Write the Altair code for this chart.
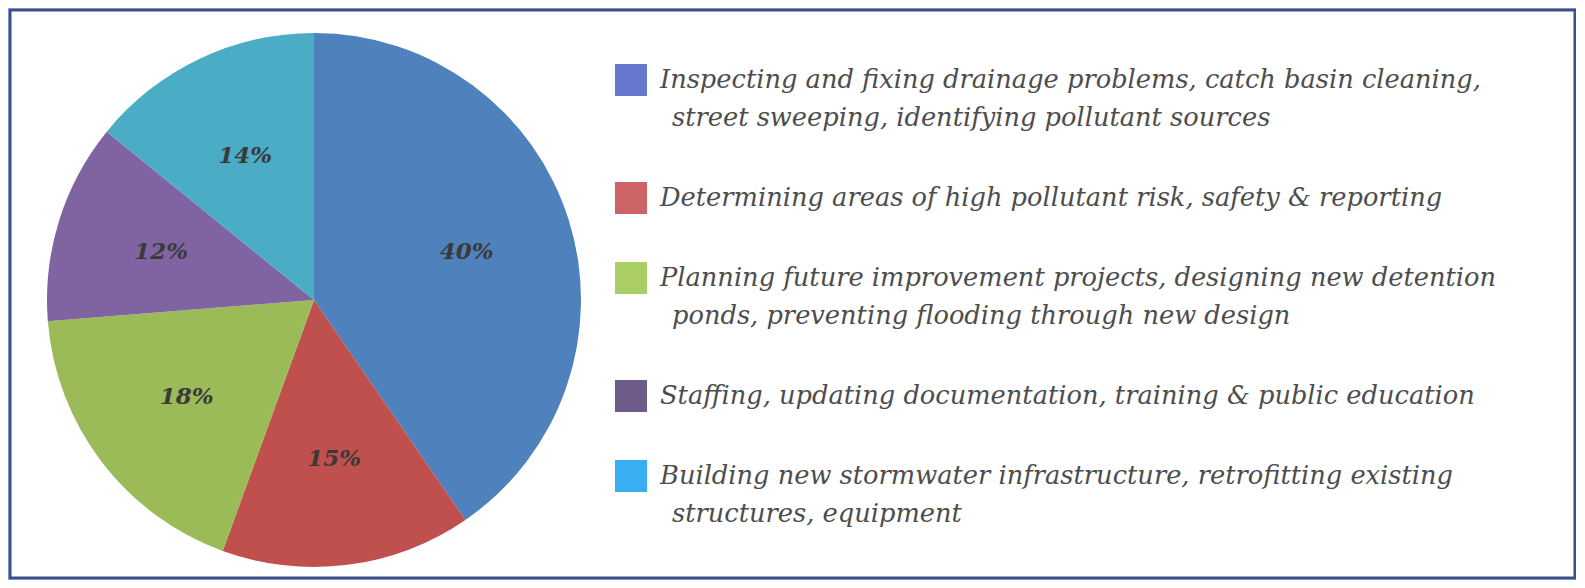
import altair as alt
import pandas as pd

# ---- data ----
categories = [
    "Inspecting and fixing drainage problems, catch basin cleaning, street sweeping, identifying pollutant sources",
    "Determining areas of high pollutant risk, safety & reporting",
    "Planning future improvement projects, designing new detention ponds, preventing flooding through new design",
    "Staffing, updating documentation, training & public education",
    "Building new stormwater infrastructure, retrofitting existing structures, equipment",
]
values = [40, 15, 18, 12, 14]
pct_labels = ["40%", "15%", "18%", "12%", "14%"]
legend_lines = [
    ["Inspecting and fixing drainage problems, catch basin cleaning,",
     "street sweeping, identifying pollutant sources"],
    ["Determining areas of high pollutant risk, safety & reporting"],
    ["Planning future improvement projects, designing new detention",
     "ponds, preventing flooding through new design"],
    ["Staffing, updating documentation, training & public education"],
    ["Building new stormwater infrastructure, retrofitting existing",
     "structures, equipment"],
]
slice_colors = ["#4f81bd", "#c0504d", "#9bbb59", "#8064a2", "#4bacc6"]
legend_colors = ["#6878cf", "#cc6466", "#abcd66", "#6f5b8a", "#3aaef2"]

# ---- layout ----
W, H = 1568, 572
CX, CY, R = 305, 291, 267
LBL_R = 160
SQ_X, SQ = 606, 32
TXT_X, INDENT = 651, 12
FONT = "DejaVu Serif"
FS = 25.7
LINE_GAP = 38
ITEM_GAP = 80

pie_df = pd.DataFrame({
    "cat": categories, "value": values, "label": pct_labels,
    "order": list(range(len(values))),
})

# legend layout computed
sq_rows, txt_rows = [], []
y = 71
for i, lines in enumerate(legend_lines):
    sq_rows.append({"cat": categories[i], "px": SQ_X + SQ / 2, "py": y})
    for j, line in enumerate(lines):
        txt_rows.append({"text": line, "px": TXT_X + (INDENT if j else 0), "py": y + j * LINE_GAP})
    y += (len(lines) - 1) * LINE_GAP + ITEM_GAP
sq_df = pd.DataFrame(sq_rows)
txt_df = pd.DataFrame(txt_rows)

frame = alt.Chart(pd.DataFrame({"a": [0]})).mark_rect(
    fill="white", stroke="#3d4d8c", strokeWidth=3
).encode(x=alt.value(1), x2=alt.value(W - 2), y=alt.value(1), y2=alt.value(H - 3))

color_scale = alt.Scale(domain=categories, range=slice_colors)
base = alt.Chart(pie_df).encode(
    theta=alt.Theta("value:Q", stack=True),
    order=alt.Order("order:Q"),
)
pie = base.mark_arc(outerRadius=R).encode(
    color=alt.Color("cat:N", scale=color_scale, legend=None),
    x=alt.value(CX), y=alt.value(CY),
)
lbl = base.mark_text(
    radius=LBL_R, font=FONT, fontSize=23, fontWeight="bold", fontStyle="italic",
    color="#3a3a3a",
).encode(text="label:N", x=alt.value(CX), y=alt.value(CY))

squares = alt.Chart(sq_df).mark_square(size=SQ * SQ, opacity=1).encode(
    x=alt.X("px:Q", scale=None), y=alt.Y("py:Q", scale=None),
    color=alt.Color("cat:N", scale=alt.Scale(domain=categories, range=legend_colors), legend=None),
)
texts = alt.Chart(txt_df).mark_text(
    align="left", baseline="middle", font=FONT, fontSize=FS, fontStyle="italic",
    color="#4d4d4d",
).encode(x=alt.X("px:Q", scale=None), y=alt.Y("py:Q", scale=None), text="text:N")

chart = alt.layer(frame, pie, lbl, squares, texts).properties(
    width=W, height=H, background="#c4d4fb",
    autosize=alt.AutoSizeParams(type="fit", contains="padding"), padding=0,
).configure_view(stroke=None).resolve_scale(color="independent")

chart.save("out.html", embed_options={"renderer": "svg", "actions": False})
